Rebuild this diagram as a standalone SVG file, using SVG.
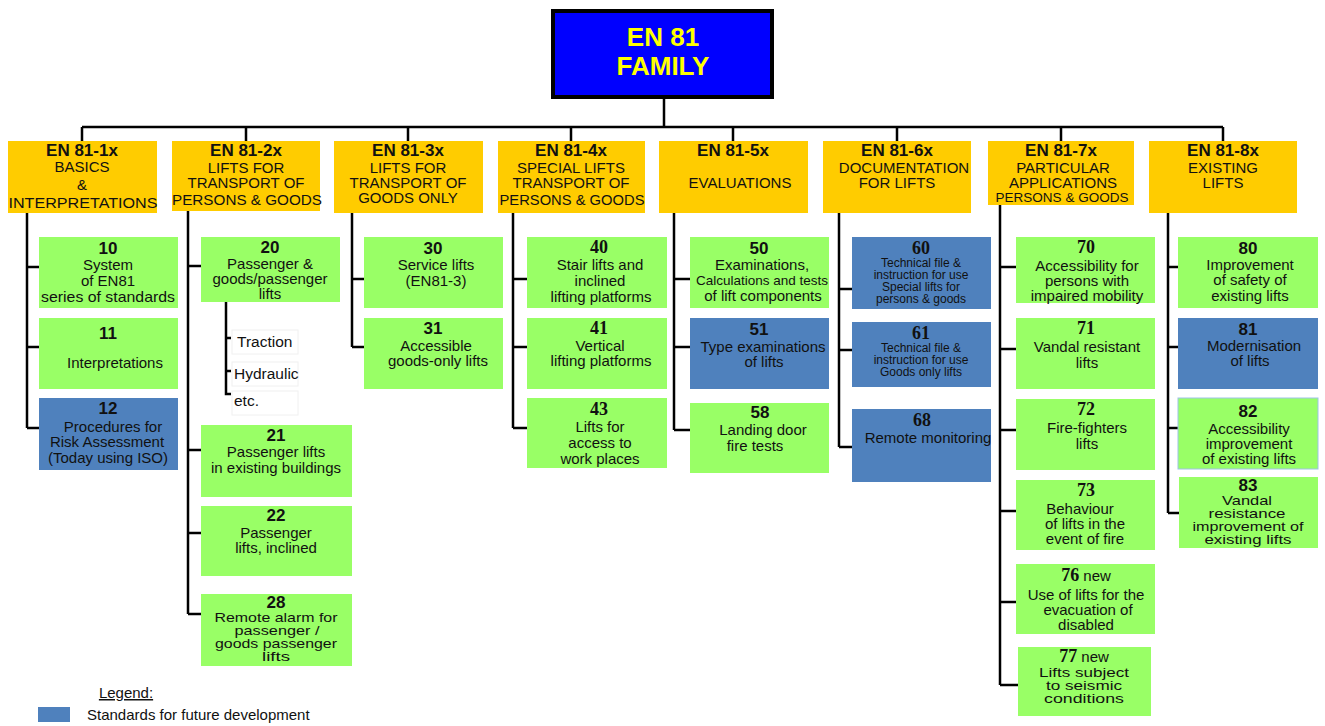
<svg xmlns="http://www.w3.org/2000/svg" width="1325" height="726" viewBox="0 0 1325 726">
<style>
.hdr{fill:#FFCC00}
.g{fill:#99FF66}
.b{fill:#4F81BD}
text{font-family:"Liberation Sans",Arial,sans-serif;text-anchor:middle;fill:#111}
.n{font-weight:bold;font-size:17px}
.ns{font-family:"Liberation Serif","Times New Roman",serif;font-weight:bold;font-size:18px}
.h{font-size:15px}
.c{font-size:15px}
.s{font-size:13.5px}
.xs{font-size:12px}
.t13{font-size:13.5px}
.sub{font-size:15.5px;text-anchor:start}
.conn{stroke:#000;stroke-width:2.5;fill:none}
.faint{fill:#fff;stroke:#f0f0f0;stroke-width:1}
</style>
<rect width="1325" height="726" fill="#fff"/>

<g id="connectors" class="conn">
<path d="M664 98V127M82 127H1223M82 127V141M246 127V141M408 127V141M571 127V141M733 127V141M897 127V141M1061 127V141M1223 127V141"/>
<path d="M27 213V428M27 267H39M27 347H39M27 428H39"/>
<path d="M188 210V614M188 266H201M188 450H201M188 533H201M188 614H201"/>
<path d="M226 302V394H231M226 338H231M226 371H231"/>
<path d="M352 213V347M352 279H364M352 347H364"/>
<path d="M513 213V428M513 279H527M513 347H527M513 428H527"/>
<path d="M674 213V430M674 279H690M674 347H690M674 430H690"/>
<path d="M839 213V447M839 289H852M839 350H852M839 447H852"/>
<path d="M1000 205V685M1000 267H1016M1000 349H1016M1000 430H1016M1000 511H1016M1000 602H1016M1000 685H1018"/>
<path d="M1168 213V513M1168 267H1178M1168 347H1178M1168 428H1178M1168 513H1179"/>
</g>

<g id="root">
<rect x="553" y="11" width="219" height="86" fill="#0000FF" stroke="#000" stroke-width="4"/>
<text x="663" y="46" style="font-size:26px;font-weight:bold;fill:#FFFF00">EN 81</text>
<text x="663" y="75" style="font-size:26px;font-weight:bold;fill:#FFFF00">FAMILY</text>
</g>

<g id="h1"><rect class="hdr" x="8" y="141" width="149" height="72"/>
<text class="n" x="82" y="156">EN 81-1x</text><text class="h" x="82" y="172">BASICS</text><text class="h" x="82" y="190">&amp;</text><text class="h" x="83" y="208" textLength="149" lengthAdjust="spacingAndGlyphs">INTERPRETATIONS</text></g>
<g id="h2"><rect class="hdr" x="172" y="141" width="148" height="70"/>
<text class="n" x="246" y="156">EN 81-2x</text><text class="h" x="246" y="173">LIFTS FOR</text><text class="h" x="246" y="188">TRANSPORT OF</text><text class="h" x="247" y="205" textLength="150" lengthAdjust="spacingAndGlyphs">PERSONS &amp; GOODS</text></g>
<g id="h3"><rect class="hdr" x="334" y="141" width="149" height="72"/>
<text class="n" x="408" y="156">EN 81-3x</text><text class="h" x="408" y="173">LIFTS FOR</text><text class="h" x="408" y="188">TRANSPORT OF</text><text class="h" x="408" y="203">GOODS ONLY</text></g>
<g id="h4"><rect class="hdr" x="498" y="141" width="147" height="72"/>
<text class="n" x="571" y="156">EN 81-4x</text><text class="h" x="571" y="173">SPECIAL LIFTS</text><text class="h" x="571" y="188">TRANSPORT OF</text><text class="h" x="572" y="205" textLength="145" lengthAdjust="spacingAndGlyphs">PERSONS &amp; GOODS</text></g>
<g id="h5"><rect class="hdr" x="659" y="141" width="149" height="72"/>
<text class="n" x="733" y="156">EN 81-5x</text><text class="h" x="740" y="188">EVALUATIONS</text></g>
<g id="h6"><rect class="hdr" x="823" y="141" width="148" height="72"/>
<text class="n" x="897" y="156">EN 81-6x</text><text class="h" x="904" y="173">DOCUMENTATION</text><text class="h" x="897" y="188">FOR LIFTS</text></g>
<g id="h7"><rect class="hdr" x="988" y="141" width="146" height="64"/>
<text class="n" x="1061" y="156">EN 81-7x</text><text class="h" x="1063" y="173">PARTICULAR</text><text class="h" x="1063" y="188">APPLICATIONS</text><text class="s" x="1062" y="202">PERSONS &amp; GOODS</text></g>
<g id="h8"><rect class="hdr" x="1149" y="141" width="148" height="72"/>
<text class="n" x="1223" y="156">EN 81-8x</text><text class="h" x="1223" y="173">EXISTING</text><text class="h" x="1223" y="188">LIFTS</text></g>

<g id="n10"><rect class="g" x="39" y="237" width="139" height="71"/>
<text class="n" x="108" y="254">10</text><text class="c" x="108" y="270">System</text><text class="c" x="108" y="286">of EN81</text><text class="c" x="108" y="302" textLength="134" lengthAdjust="spacingAndGlyphs">series of standards</text></g>
<g id="n11"><rect class="g" x="39" y="318" width="139" height="71"/>
<text class="n" x="108" y="339">11</text><text class="c" x="115" y="368">Interpretations</text></g>
<g id="n12"><rect class="b" x="39" y="398" width="139" height="72"/>
<text class="n" x="108" y="414">12</text><text class="c" x="113" y="432">Procedures for</text><text class="c" x="107" y="447">Risk Assessment</text><text class="c" x="108" y="463">(Today using ISO)</text></g>

<g id="n20"><rect class="g" x="201" y="237" width="139" height="65"/>
<text class="n" x="270" y="253">20</text><text class="c" x="270" y="269">Passenger &amp;</text><text class="c" x="270" y="284">goods/passenger</text><text class="c" x="270" y="299">lifts</text></g>
<g id="sub20">
<rect class="faint" x="232" y="330" width="66" height="24"/>
<rect class="faint" x="232" y="362" width="66" height="24"/>
<rect class="faint" x="232" y="391" width="66" height="24"/>
<text class="sub" x="237" y="347">Traction</text><text class="sub" x="234" y="379">Hydraulic</text><text class="sub" x="234" y="406">etc.</text></g>
<g id="n21"><rect class="g" x="201" y="425" width="151" height="72"/>
<text class="n" x="276" y="441">21</text><text class="c" x="276" y="457">Passenger lifts</text><text class="c" x="276" y="473">in existing buildings</text></g>
<g id="n22"><rect class="g" x="201" y="506" width="151" height="70"/>
<text class="n" x="276" y="521">22</text><text class="c" x="276" y="538">Passenger</text><text class="c" x="276" y="553">lifts, inclined</text></g>
<g id="n28"><rect class="g" x="201" y="594" width="151" height="72"/>
<text class="n" x="276" y="608">28</text><text class="t13" x="276" y="622" textLength="123" lengthAdjust="spacingAndGlyphs">Remote alarm for</text><text class="t13" x="277" y="635" textLength="85" lengthAdjust="spacingAndGlyphs">passenger /</text><text class="t13" x="276" y="648" textLength="122" lengthAdjust="spacingAndGlyphs">goods passenger</text><text class="t13" x="276" y="661" textLength="28" lengthAdjust="spacingAndGlyphs">lifts</text></g>

<g id="n30"><rect class="g" x="364" y="237" width="139" height="71"/>
<text class="n" x="433" y="254">30</text><text class="c" x="436" y="270">Service lifts</text><text class="c" x="436" y="286">(EN81-3)</text></g>
<g id="n31"><rect class="g" x="364" y="318" width="139" height="71"/>
<text class="n" x="433" y="334">31</text><text class="c" x="436" y="351">Accessible</text><text class="c" x="438" y="366">goods-only lifts</text></g>

<g id="n40"><rect class="g" x="527" y="237" width="140" height="71"/>
<text class="ns" x="599" y="253">40</text><text class="c" x="600" y="270">Stair lifts and</text><text class="c" x="600" y="286">inclined</text><text class="c" x="601" y="302">lifting platforms</text></g>
<g id="n41"><rect class="g" x="527" y="318" width="140" height="71"/>
<text class="ns" x="599" y="334">41</text><text class="c" x="600" y="351">Vertical</text><text class="c" x="601" y="366">lifting platforms</text></g>
<g id="n43"><rect class="g" x="527" y="398" width="140" height="70"/>
<text class="ns" x="599" y="415">43</text><text class="c" x="600" y="432">Lifts for</text><text class="c" x="600" y="448">access to</text><text class="c" x="600" y="464">work places</text></g>

<g id="n50"><rect class="g" x="690" y="237" width="139" height="71"/>
<text class="n" x="759" y="254">50</text><text class="c" x="762" y="270">Examinations,</text><text class="s" x="762" y="285">Calculations and tests</text><text class="c" x="763" y="301">of lift components</text></g>
<g id="n51"><rect class="b" x="690" y="318" width="139" height="71"/>
<text class="n" x="759" y="335">51</text><text class="c" x="763" y="352">Type examinations</text><text class="c" x="764" y="367">of lifts</text></g>
<g id="n58"><rect class="g" x="690" y="403" width="139" height="70"/>
<text class="n" x="760" y="418">58</text><text class="c" x="763" y="435">Landing door</text><text class="c" x="755" y="451">fire tests</text></g>

<g id="n60"><rect class="b" x="852" y="237" width="139" height="72"/>
<text class="ns" x="921" y="254">60</text><text class="xs" x="921" y="267">Technical file &amp;</text><text class="xs" x="921" y="279">instruction for use</text><text class="xs" x="921" y="291">Special lifts for</text><text class="xs" x="921" y="303">persons &amp; goods</text></g>
<g id="n61"><rect class="b" x="852" y="322" width="139" height="65"/>
<text class="ns" x="921" y="339">61</text><text class="xs" x="921" y="352">Technical file &amp;</text><text class="xs" x="921" y="364">instruction for use</text><text class="xs" x="921" y="376">Goods only lifts</text></g>
<g id="n68"><rect class="b" x="852" y="409" width="139" height="73"/>
<text class="ns" x="922" y="426">68</text><text class="c" x="928" y="443">Remote monitoring</text></g>

<g id="n70"><rect class="g" x="1016" y="237" width="139" height="66"/>
<text class="ns" x="1086" y="253">70</text><text class="c" x="1087" y="271">Accessibility for</text><text class="c" x="1087" y="286">persons with</text><text class="c" x="1087" y="301">impaired mobility</text></g>
<g id="n71"><rect class="g" x="1016" y="318" width="139" height="71"/>
<text class="ns" x="1086" y="334">71</text><text class="c" x="1087" y="352">Vandal resistant</text><text class="c" x="1087" y="368">lifts</text></g>
<g id="n72"><rect class="g" x="1016" y="399" width="139" height="71"/>
<text class="ns" x="1086" y="415">72</text><text class="c" x="1087" y="433">Fire-fighters</text><text class="c" x="1087" y="449">lifts</text></g>
<g id="n73"><rect class="g" x="1016" y="480" width="139" height="70"/>
<text class="ns" x="1086" y="496">73</text><text class="c" x="1080" y="514">Behaviour</text><text class="c" x="1085" y="529">of lifts in the</text><text class="c" x="1085" y="544">event of fire</text></g>
<g id="n76"><rect class="g" x="1016" y="564" width="139" height="70"/>
<text class="c" x="1086" y="581"><tspan class="ns">76</tspan> new</text><text class="c" x="1086" y="600">Use of lifts for the</text><text class="c" x="1088" y="615">evacuation of</text><text class="c" x="1086" y="630">disabled</text></g>
<g id="n77"><rect class="g" x="1018" y="647" width="133" height="69"/>
<text class="c" x="1084" y="662"><tspan class="ns">77</tspan> new</text><text class="t13" x="1084" y="677" textLength="90" lengthAdjust="spacingAndGlyphs">Lifts subject</text><text class="t13" x="1084" y="690" textLength="76" lengthAdjust="spacingAndGlyphs">to seismic</text><text class="t13" x="1084" y="703" textLength="80" lengthAdjust="spacingAndGlyphs">conditions</text></g>

<g id="n80"><rect class="g" x="1178" y="237" width="140" height="71"/>
<text class="n" x="1248" y="254">80</text><text class="c" x="1250" y="270">Improvement</text><text class="c" x="1250" y="285">of safety of</text><text class="c" x="1250" y="301">existing lifts</text></g>
<g id="n81"><rect class="b" x="1178" y="318" width="140" height="71"/>
<text class="n" x="1248" y="335">81</text><text class="c" x="1254" y="351">Modernisation</text><text class="c" x="1250" y="366">of lifts</text></g>
<g id="n82"><rect class="g" x="1178" y="398" width="140" height="71" stroke="#9dc3e6" stroke-width="1"/>
<text class="n" x="1248" y="417">82</text><text class="c" x="1249" y="434">Accessibility</text><text class="c" x="1249" y="449">improvement</text><text class="c" x="1249" y="464">of existing lifts</text></g>
<g id="n83"><rect class="g" x="1179" y="477" width="139" height="71"/>
<text class="n" x="1248" y="491">83</text><text class="t13" x="1247" y="505" textLength="50" lengthAdjust="spacingAndGlyphs">Vandal</text><text class="t13" x="1247" y="518" textLength="77" lengthAdjust="spacingAndGlyphs">resistance</text><text class="t13" x="1248" y="531" textLength="111" lengthAdjust="spacingAndGlyphs">improvement of</text><text class="t13" x="1248" y="544" textLength="87" lengthAdjust="spacingAndGlyphs">existing lifts</text></g>

<g id="legend">
<text x="126" y="698" style="font-size:15px;text-decoration:underline">Legend:</text>
<rect class="b" x="38" y="707" width="32" height="15"/>
<text x="87" y="720" style="font-size:15px;text-anchor:start">Standards for future development</text>
</g>
</svg>
